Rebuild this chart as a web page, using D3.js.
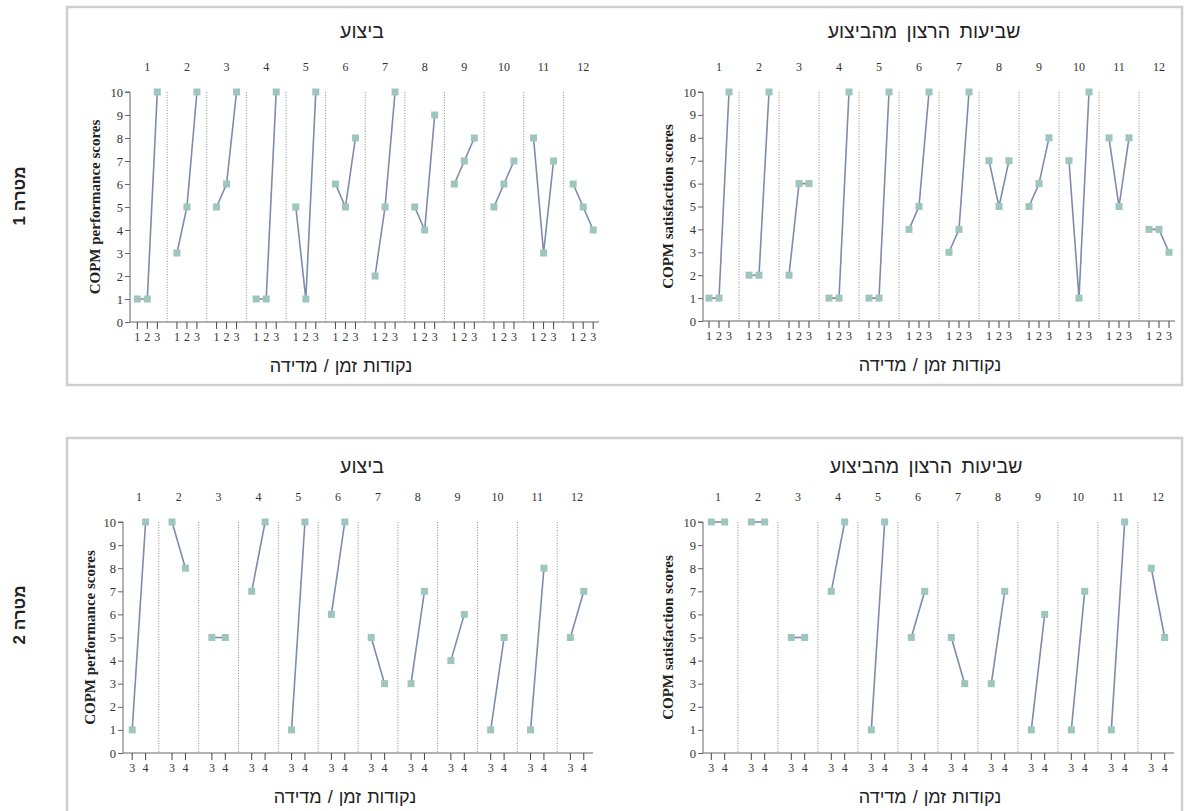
<!DOCTYPE html>
<html><head><meta charset="utf-8">
<script src="https://cdn.jsdelivr.net/npm/d3@7"></script>
<style>
html,body{margin:0;padding:0;background:#fff;}
svg{display:block;}
</style></head>
<body>
<svg id="chart" width="1185" height="811"></svg>
<script>
// ---------- data ----------
const clients = ["1","2","3","4","5","6","7","8","9","10","11","12"];
const timesGoal1 = ["1","2","3"];
const timesGoal2 = ["3","4"];
const yTicks = [0,1,2,3,4,5,6,7,8,9,10];

const perfGoal1 = [[1,1,10],[3,5,10],[5,6,10],[1,1,10],[5,1,10],[6,5,8],[2,5,10],[5,4,9],[6,7,8],[5,6,7],[8,3,7],[6,5,4]];
const satGoal1  = [[1,1,10],[2,2,10],[2,6,6],[1,1,10],[1,1,10],[4,5,10],[3,4,10],[7,5,7],[5,6,8],[7,1,10],[8,5,8],[4,4,3]];
const perfGoal2 = [[1,10],[10,8],[5,5],[7,10],[1,10],[6,10],[5,3],[3,7],[4,6],[1,5],[1,8],[5,7]];
const satGoal2  = [[10,10],[10,10],[5,5],[7,10],[1,10],[5,7],[5,3],[3,7],[1,6],[1,7],[1,10],[8,5]];

const titlePerf = "ביצוע";
const titleSat = "שביעות הרצון מהביצוע";
const xLabel = "נקודות זמן / מדידה";
const yLabelPerf = "COPM performance scores";
const yLabelSat = "COPM satisfaction scores";
const rowLabels = ["מטרה 1", "מטרה 2"];

// ---------- layout ----------
const svg = d3.select("#chart");
const LINE = "#7d8cab", MARK = "#9fc6bc", AXIS = "#666";
const SERIF = "'Liberation Serif','Times New Roman',serif";
const SANS = "'Liberation Sans',Arial,sans-serif";

// boxes
svg.append("rect").attr("x",67).attr("y",7).attr("width",1115).attr("height",378)
  .attr("fill","none").attr("stroke","#cfcfcf").attr("stroke-width",2.5);
svg.append("rect").attr("x",67).attr("y",438).attr("width",1115).attr("height",400)
  .attr("fill","none").attr("stroke","#cfcfcf").attr("stroke-width",2.5);

// row labels
[[19,196],[19,615]].forEach((p,i)=>{
  svg.append("text").attr("transform",`translate(${p[0]},${p[1]}) rotate(-90)`)
    .attr("text-anchor","middle").attr("dominant-baseline","central").attr("direction","rtl")
    .attr("font-family",SANS).attr("font-weight","bold").attr("font-size",17).attr("fill","#222")
    .text(rowLabels[i]);
});

const panels = [
  {data: perfGoal1, times: timesGoal1, title: titlePerf, ylab: yLabelPerf, bx0:127.5, bx1:603, ax:130, y0:322, y1:92, ylabX:95, titleY:31, grpY:71, inner:10, tX:362, lX:341},
  {data: satGoal1,  times: timesGoal1, title: titleSat,  ylab: yLabelSat,  bx0:699,  bx1:1179, ax:703, y0:321, y1:92, ylabX:668, titleY:31, grpY:71, inner:10, tX:924, lX:930},
  {data: perfGoal2, times: timesGoal2, title: titlePerf, ylab: yLabelPerf, bx0:119,  bx1:597, ax:123, y0:753, y1:522, ylabX:90, titleY:466, grpY:501, inner:6.7, tX:362, lX:345},
  {data: satGoal2,  times: timesGoal2, title: titleSat,  ylab: yLabelSat,  bx0:698,  bx1:1178, ax:703, y0:753, y1:522, ylabX:668, titleY:466, grpY:501, inner:6.7, tX:926, lX:930},
];

panels.forEach(P=>{
  const g = svg.append("g");
  const xBand = d3.scaleBand().domain(clients).range([P.bx0,P.bx1]).paddingInner(0).paddingOuter(0);
  const xIn = d3.scalePoint().domain(P.times).range([-P.inner,P.inner]);
  const y = d3.scaleLinear().domain([0,10]).range([P.y0,P.y1]);
  const cx = (c)=> xBand(c)+xBand.bandwidth()/2;

  // title
  g.append("text").attr("x",P.tX).attr("y",P.titleY).attr("text-anchor","middle")
    .attr("dominant-baseline","central").attr("direction","rtl").attr("word-spacing",4)
    .attr("font-family",SANS).attr("font-size",19.5).attr("fill","#222").text(P.title);
  // x label
  g.append("text").attr("x",P.lX).attr("y",P.y0+44).attr("text-anchor","middle")
    .attr("dominant-baseline","central").attr("direction","rtl").attr("word-spacing",1)
    .attr("font-family",SANS).attr("font-size",18).attr("fill","#222").text(xLabel);

  // separators
  clients.slice(1).forEach(c=>{
    const sx = xBand(c);
    g.append("line").attr("x1",sx).attr("x2",sx).attr("y1",P.y1).attr("y2",P.y0)
      .attr("stroke","#8a8a8a").attr("stroke-width",1).attr("stroke-dasharray","1,1.6");
  });

  // group labels
  clients.forEach(c=>{
    g.append("text").attr("x",cx(c)).attr("y",P.grpY).attr("text-anchor","middle")
      .attr("font-family",SERIF).attr("font-size",12).attr("fill","#333").text(c);
  });

  // y axis
  const yAxis = d3.axisLeft(y).tickValues(yTicks).tickSize(5).tickPadding(2).tickFormat(d3.format("d"));
  const ya = g.append("g").attr("transform",`translate(${P.ax},0)`).call(yAxis);
  ya.select(".domain").attr("stroke",AXIS).attr("d",`M-5,${P.y1}H0V${P.y0}`);
  ya.selectAll(".tick line").attr("stroke",AXIS);
  ya.selectAll(".tick text").attr("font-family",SERIF).attr("font-size",12.5).attr("fill","#333");

  // x axis line
  g.append("line").attr("x1",P.ax).attr("x2",P.bx1-4).attr("y1",P.y0).attr("y2",P.y0)
    .attr("stroke",AXIS).attr("stroke-width",1.2);
  // x ticks & labels per client
  clients.forEach(c=>{
    P.times.forEach(t=>{
      const tx = cx(c)+xIn(t);
      g.append("line").attr("x1",tx).attr("x2",tx).attr("y1",P.y0).attr("y2",P.y0+7)
        .attr("stroke","#444").attr("stroke-width",1);
      g.append("text").attr("x",tx).attr("y",P.y0+19).attr("text-anchor","middle")
        .attr("font-family",SERIF).attr("font-size",12).attr("fill","#333").text(t);
    });
  });

  // y label
  g.append("text").attr("transform",`translate(${P.ylabX},${(P.y0+P.y1)/2}) rotate(-90)`)
    .attr("text-anchor","middle").attr("dominant-baseline","central")
    .attr("font-family",SERIF).attr("font-weight","bold").attr("font-size",15).attr("fill","#222")
    .text(P.ylab);

  // lines and markers
  const line = d3.line().x(d=>d.x).y(d=>y(d.v));
  clients.forEach((c,i)=>{
    const pts = P.data[i].map((v,j)=>({x: cx(c)+xIn(P.times[j]), v}));
    g.append("path").attr("d",line(pts)).attr("fill","none").attr("stroke",LINE).attr("stroke-width",1.6);
    g.selectAll(null).data(pts).enter().append("rect")
      .attr("x",d=>d.x-3.5).attr("y",d=>y(d.v)-3.5).attr("width",7).attr("height",7)
      .attr("fill",MARK);
  });
});
</script>
</body></html>
